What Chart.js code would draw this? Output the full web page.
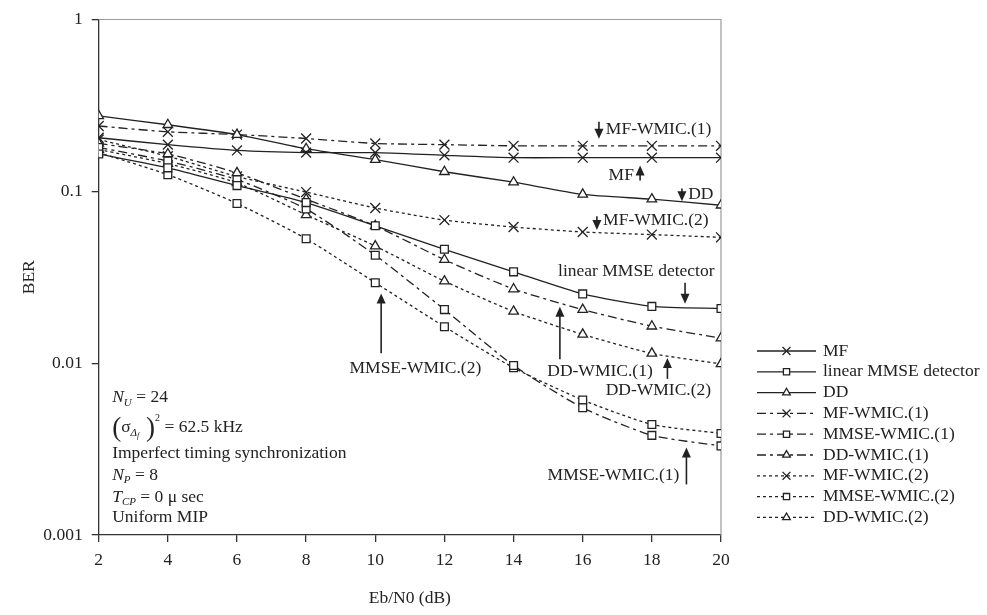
<!DOCTYPE html>
<html>
<head>
<meta charset="utf-8">
<script src="https://cdn.jsdelivr.net/npm/chart.js@4.4.0/dist/chart.umd.min.js"></script>
<style>
  html, body { margin: 0; padding: 0; background: #fff; }
  #wrap { width: 987px; height: 615px; position: relative; }
</style>
</head>
<body>
<div id="wrap"><canvas id="myChart"></canvas></div>
<script>
// Eb/N0 (dB)
const ebn0 = [2, 4, 6, 8, 10, 12, 14, 16, 18, 20];
const yTicks = [1, 0.1, 0.01, 0.001];

// BER values
const mf      = [0.205, 0.187, 0.173, 0.168, 0.168, 0.162, 0.157, 0.157, 0.157, 0.157];
const mmseLin = [0.165, 0.137, 0.108, 0.086, 0.063, 0.046, 0.034, 0.0253, 0.0214, 0.0208];
const dd      = [0.275, 0.244, 0.214, 0.177, 0.153, 0.130, 0.113, 0.096, 0.090, 0.083];
const mfW1    = [0.240, 0.222, 0.214, 0.203, 0.190, 0.187, 0.184, 0.184, 0.184, 0.184];
const mmseW1  = [0.180, 0.150, 0.117, 0.079, 0.0425, 0.0205, 0.0097, 0.0055, 0.0038, 0.0033];
const ddW1    = [0.190, 0.165, 0.128, 0.090, 0.063, 0.040, 0.027, 0.0205, 0.0164, 0.0140];
const mfW2    = [0.200, 0.160, 0.122, 0.099, 0.080, 0.068, 0.062, 0.058, 0.056, 0.054];
const mmseW2  = [0.168, 0.125, 0.085, 0.053, 0.0294, 0.0163, 0.0094, 0.0061, 0.0044, 0.0039];
const ddW2    = [0.175, 0.145, 0.112, 0.073, 0.048, 0.030, 0.020, 0.0147, 0.0114, 0.0099];

const FONT = "'Liberation Serif', 'Times New Roman', serif";
const INK = '#222';

// text labels with arrows, in data units (x = Eb/N0, y = BER)
const notes = [
  { text: 'MF-WMIC.(1)', tx: 16.67, ty: 0.228, align: 'left', ax: 16.47, ay0: 0.254, ay1: 0.202 },
  { text: 'MF', tx: 17.48, ty: 0.1238, align: 'right', ax: 17.66, ay0: 0.1158, ay1: 0.1414 },
  { text: 'DD', tx: 19.05, ty: 0.0961, align: 'left', ax: 18.87, ay0: 0.104, ay1: 0.0875 },
  { text: 'MF-WMIC.(2)', tx: 16.59, ty: 0.068, align: 'left', ax: 16.41, ay0: 0.0717, ay1: 0.0595 },
  { text: 'linear MMSE detector', tx: 17.55, ty: 0.034, align: 'center', ax: 18.96, ay0: 0.0294, ay1: 0.0222 },
  { text: 'MMSE-WMIC.(2)', tx: 11.16, ty: 0.00936, align: 'center', ax: 10.17, ay0: 0.01143, ay1: 0.0254 },
  { text: 'DD-WMIC.(1)', tx: 16.5, ty: 0.0090, align: 'center', ax: 15.34, ay0: 0.01055, ay1: 0.0213 },
  { text: 'DD-WMIC.(2)', tx: 18.19, ty: 0.00698, align: 'center', ax: 18.45, ay0: 0.0081, ay1: 0.0107 },
  { text: 'MMSE-WMIC.(1)', tx: 16.89, ty: 0.00222, align: 'center', ax: 19.0, ay0: 0.00197, ay1: 0.00323 }
];

// parameter block, lower left
const infoX = 2.39;
const infoRows = [
  { y: 0.00628, parts: [['N', 'i'], ['U', 'sub'], [' = 24', 'n']] },
  { y: 0.00421, parts: [['(', 'big'], ['\u03c3', 'n'], ['\u0394', 'sub'], ['f', 'subsub'], [' )', 'big'], ['2', 'sup'], [' = 62.5 kHz', 'n']] },
  { y: 0.00298, parts: [['Imperfect timing synchronization', 'n']] },
  { y: 0.00222, parts: [['N', 'i'], ['P', 'sub'], [' = 8', 'n']] },
  { y: 0.00166, parts: [['T', 'i'], ['CP', 'sub'], [' = 0 \u03bc sec', 'n']] },
  { y: 0.00127, parts: [['Uniform MIP', 'n']] }
];

const solid = [];
const dashDot = [9, 4, 3, 4];
const dotted = [3, 3];

function series(label, values, style, dash, radius) {
  return {
    label: label,
    data: ebn0.map((x, i) => ({ x: x, y: values[i] })),
    borderColor: INK,
    borderWidth: 1.3,
    borderDash: dash,
    backgroundColor: '#fff',
    pointStyle: style,
    pointRadius: radius,
    pointHoverRadius: radius,
    pointBackgroundColor: '#fff',
    pointBorderColor: INK,
    pointBorderWidth: 1.3,
    tension: 0.2,
    fill: false
  };
}

const datasets = [
  series('MF', mf, 'crossRot', solid, 7),
  series('linear MMSE detector', mmseLin, 'rect', solid, 5.5),
  series('DD', dd, 'triangle', solid, 5.5),
  series('MF-WMIC.(1)', mfW1, 'crossRot', dashDot, 7),
  series('MMSE-WMIC.(1)', mmseW1, 'rect', dashDot, 5.5),
  series('DD-WMIC.(1)', ddW1, 'triangle', dashDot, 5.5),
  series('MF-WMIC.(2)', mfW2, 'crossRot', dotted, 7),
  series('MMSE-WMIC.(2)', mmseW2, 'rect', dotted, 5.5),
  series('DD-WMIC.(2)', ddW2, 'triangle', dotted, 5.5)
];

function drawRich(ctx, parts, x, y) {
  let cx = x;
  parts.forEach(p => {
    const t = p[0], s = p[1];
    let font = '17.5px ' + FONT, dy = 0;
    if (s === 'i') font = 'italic 17.5px ' + FONT;
    if (s === 'sub') { font = 'italic 11px ' + FONT; dy = 5; }
    if (s === 'subsub') { font = 'italic 8px ' + FONT; dy = 8; }
    if (s === 'sup') { font = '10px ' + FONT; dy = -9; }
    if (s === 'big') { font = '27px ' + FONT; dy = 1; }
    ctx.font = font;
    ctx.fillText(t, cx, y + dy);
    cx += ctx.measureText(t).width;
  });
}

const framePlugin = {
  id: 'frame',
  beforeDatasetsDraw(chart) {
    const a = chart.chartArea, ctx = chart.ctx;
    ctx.save();
    ctx.strokeStyle = '#9a9a9a';
    ctx.lineWidth = 1.2;
    ctx.beginPath();
    ctx.moveTo(a.left, a.top);
    ctx.lineTo(a.right, a.top);
    ctx.lineTo(a.right, a.bottom);
    ctx.stroke();
    ctx.restore();
  }
};

const notesPlugin = {
  id: 'notes',
  afterDatasetsDraw(chart) {
    const ctx = chart.ctx, xs = chart.scales.x, ys = chart.scales.y;
    ctx.save();
    ctx.fillStyle = INK;
    ctx.strokeStyle = INK;
    ctx.textBaseline = 'middle';
    notes.forEach(n => {
      ctx.font = '17.5px ' + FONT;
      ctx.textAlign = n.align;
      ctx.fillText(n.text, xs.getPixelForValue(n.tx), ys.getPixelForValue(n.ty));
      const ax = xs.getPixelForValue(n.ax);
      const y0 = ys.getPixelForValue(n.ay0), y1 = ys.getPixelForValue(n.ay1);
      const dir = y1 > y0 ? 1 : -1;
      ctx.lineWidth = 1.6;
      ctx.beginPath();
      ctx.moveTo(ax, y0);
      ctx.lineTo(ax, y1 - dir * 8);
      ctx.stroke();
      ctx.beginPath();
      ctx.moveTo(ax, y1);
      ctx.lineTo(ax - 4.5, y1 - dir * 10);
      ctx.lineTo(ax + 4.5, y1 - dir * 10);
      ctx.closePath();
      ctx.fill();
    });
    ctx.textAlign = 'left';
    infoRows.forEach(r => {
      drawRich(ctx, r.parts, xs.getPixelForValue(infoX), ys.getPixelForValue(r.y));
    });
    ctx.restore();
  }
};

// legend drawn to the right of the plot, using each dataset's own style
const legendPlugin = {
  id: 'sideLegend',
  afterDraw(chart) {
    const ctx = chart.ctx;
    const x0 = chart.chartArea.right + 36, x1 = x0 + 59, top = 351, step = 20.8;
    ctx.save();
    chart.data.datasets.forEach((ds, i) => {
      const y = top + i * step;
      ctx.strokeStyle = INK;
      ctx.lineWidth = 1.3;
      ctx.setLineDash(ds.borderDash);
      ctx.beginPath();
      ctx.moveTo(x0, y);
      ctx.lineTo(x1, y);
      ctx.stroke();
      ctx.setLineDash([]);
      ctx.fillStyle = '#fff';
      Chart.helpers.drawPoint(ctx, {
        pointStyle: ds.pointStyle, radius: ds.pointRadius * 0.8,
        borderWidth: 1.3, rotation: 0
      }, (x0 + x1) / 2, y);
      ctx.fillStyle = INK;
      ctx.font = '17.5px ' + FONT;
      ctx.textBaseline = 'middle';
      ctx.textAlign = 'left';
      ctx.fillText(ds.label, x1 + 7, y);
    });
    ctx.restore();
  }
};

const config = {
  type: 'line',
  data: { datasets: datasets },
  options: {
    responsive: true,
    maintainAspectRatio: false,
    animation: false,
    layout: { padding: { top: 16, right: 266, left: 0, bottom: 0 } },
    plugins: {
      legend: { display: false },
      tooltip: { enabled: false }
    },
    scales: {
      x: {
        type: 'linear',
        min: 2,
        max: 20,
        ticks: { stepSize: 2, color: INK, font: { family: FONT, size: 17.5 }, padding: 8 },
        grid: { drawOnChartArea: false, tickLength: 7, color: '#333', lineWidth: 1.3 },
        border: { color: '#333', width: 1.3 },
        title: { display: true, text: 'Eb/N0 (dB)', color: INK, font: { family: FONT, size: 17.5 }, padding: { top: 0, bottom: 6 } },
        afterFit(s) { s.height = 80; }
      },
      y: {
        type: 'logarithmic',
        min: 0.001,
        max: 1,
        afterBuildTicks(s) { s.ticks = yTicks.map(v => ({ value: v })); },
        ticks: { color: INK, font: { family: FONT, size: 17.5 }, padding: 9, callback: v => String(v) },
        grid: { drawOnChartArea: false, tickLength: 7, color: '#333', lineWidth: 1.3 },
        border: { color: '#333', width: 1.3 },
        title: { display: true, text: 'BER', color: INK, font: { family: FONT, size: 17.5 }, padding: { top: 19, bottom: 0 } },
        afterFit(s) { s.width = 98.7; }
      }
    }
  },
  plugins: [framePlugin, notesPlugin, legendPlugin]
};

const ctx = document.getElementById('myChart').getContext('2d');
const myChart = new Chart(ctx, config);
</script>
</body>
</html>
